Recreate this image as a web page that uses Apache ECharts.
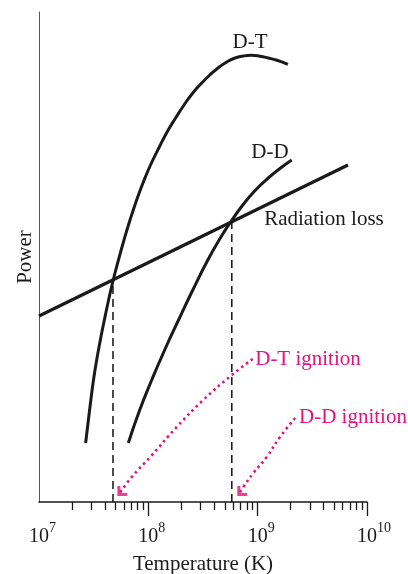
<!DOCTYPE html>
<html>
<head>
<meta charset="utf-8">
<script src="https://cdn.jsdelivr.net/npm/echarts@6/dist/echarts.min.js"></script>
<style>
  html, body { margin: 0; padding: 0; background: #fff; }
  #chart { width: 408px; height: 574px; }
</style>
</head>
<body>
<div id="chart"></div>
<script>
// temperature in K, power in arbitrary units
var tempDT = [2.67e7, 2.83e7, 2.98e7, 3.15e7, 3.37e7, 3.64e7, 3.96e7, 4.33e7, 4.75e7, 5.33e7, 5.99e7,
    6.80e7, 7.82e7, 8.93e7, 1.047e8, 1.26e8, 1.52e8, 1.80e8, 2.12e8, 2.55e8, 3.02e8, 3.65e8, 4.34e8,
    5.22e8, 6.21e8, 7.40e8, 8.70e8, 1.05e9, 1.25e9, 1.50e9, 1.89e9];
var powerDT = [59, 82, 102, 122, 142, 162, 182, 202, 221, 242, 262,
    282, 302, 319, 337, 355, 372, 385, 397, 409, 418, 427, 434,
    440, 444, 446, 446.7, 445.8, 444, 441.7, 437.7];

var tempDD = [6.56e7, 8.34e7, 1.074e8, 1.41e8, 1.89e8, 2.55e8, 3.50e8, 4.44e8, 5.74e8, 7.31e8, 9.57e8, 1.25e9, 1.62e9, 2.05e9];
var powerDD = [59, 92, 122, 152, 182, 212, 242, 262, 281, 297, 312, 324, 334, 342];

var tempRad = [1e7, 6.7e9];
var powerRad = [186, 337];

// ignition temperatures (where fusion power = radiation loss)
var ignitionTemp = [4.75e7, 5.8e8];
var ignitionPower = [222, 280];

// dotted pointer arrows, label -> ignition point
var arrowDTTemp = [9.02e8, 5.80e8, 3.18e8, 1.82e8, 1.04e8, 7.05e7, 5.32e7];
var arrowDTPower = [143, 127, 102, 75, 45, 25, 7];
var arrowDDTemp = [2.20e9, 1.60e9, 1.21e9, 9.14e8, 7.40e8, 6.65e8];
var arrowDDPower = [84, 65, 45, 29, 15, 7];

var majorTicks = [1e8, 1e9, 1e10];
var tickLabels = [1e7, 1e8, 1e9, 1e10];
var minorTicks = [];
[1e7, 1e8, 1e9].forEach(function (d) {
    for (var k = 2; k <= 9; k++) minorTicks.push(k * d);
});

var ink = '#1a1a1a';
var pink = '#e4117f';
var serif = '"Liberation Serif", "Times New Roman", serif';

function pairs(xs, ys) {
    return xs.map(function (x, i) { return [x, ys[i]]; });
}

function curve(name, xs, ys, width) {
    return {
        name: name, type: 'line', data: pairs(xs, ys),
        smooth: true, symbol: 'none', silent: true,
        lineStyle: { color: ink, width: width }
    };
}

function dashed(i) {
    return {
        type: 'line', data: [[ignitionTemp[i], 0], [ignitionTemp[i], ignitionPower[i]]],
        symbol: 'none', silent: true,
        lineStyle: { color: '#111', width: 1.5, type: [8, 5] }
    };
}

function pointer(xs, ys) {
    return {
        type: 'line', data: pairs(xs, ys), smooth: true, symbol: 'none', silent: true,
        lineStyle: { color: pink, width: 2.6, type: [2.5, 3.5] }
    };
}

// open arrow head, corner lands on the last point
var head = 'path://M0,0 L3,0 L3,7 L10,7 L10,10 L0,10 Z';
var heads = {
    type: 'scatter', silent: true, clip: false,
    data: [[arrowDTTemp[arrowDTTemp.length - 1], arrowDTPower[arrowDTPower.length - 1]],
           [arrowDDTemp[arrowDDTemp.length - 1], arrowDDPower[arrowDDPower.length - 1]]],
    symbol: head, symbolSize: 10, symbolOffset: [4, -4],
    itemStyle: { color: pink }
};

function texts(list) {
    return list.map(function (t) {
        return {
            type: 'text', x: t[0], y: t[1],
            style: { text: t[2], fill: t[3] || ink, font: '21px ' + serif, align: 'center', verticalAlign: 'middle' }
        };
    });
}

var chart = echarts.init(document.getElementById('chart'), null, { renderer: 'canvas' });
chart.setOption({
    animation: false,
    backgroundColor: '#fff',
    grid: { left: 39, right: 41, top: 12, bottom: 72, outerBoundsMode: 'none' },
    xAxis: [{
        type: 'log', logBase: 10, min: 1e7, max: 1e10,
        name: 'Temperature (K)', nameLocation: 'middle', nameGap: 52,
        nameTextStyle: { fontFamily: serif, fontSize: 21, color: ink },
        axisLine: { lineStyle: { color: ink, width: 1.5 } },
        axisTick: { show: true, length: 14, customValues: majorTicks, lineStyle: { color: ink, width: 1.3 } },
        axisLabel: {
            customValues: tickLabels, margin: 19, color: ink,
            formatter: function (v) {
                var e = Math.round(Math.log10(v));
                return (e >= 10 ? '{b2|10}' : '{b1|10}') + '{s|' + e + '}';
            },
            rich: {
                b1: { fontFamily: serif, fontSize: 20, color: ink, verticalAlign: 'bottom', padding: [6, 0, 0, 7] },
                b2: { fontFamily: serif, fontSize: 20, color: ink, verticalAlign: 'bottom', padding: [6, 0, 0, 14] },
                s: { fontFamily: serif, fontSize: 14, color: ink, verticalAlign: 'top', lineHeight: 14 }
            }
        },
        splitLine: { show: false }
    }, {
        type: 'log', logBase: 10, min: 1e7, max: 1e10, position: 'bottom',
        axisLine: { show: false },
        axisTick: { show: true, length: 8, customValues: minorTicks, lineStyle: { color: ink, width: 1.3 } },
        axisLabel: { show: false },
        splitLine: { show: false }
    }],
    yAxis: {
        type: 'value', min: 0, max: 490,
        name: 'Power', nameLocation: 'middle', nameGap: 3,
        nameTextStyle: { fontFamily: serif, fontSize: 21, color: ink },
        axisLine: { show: true, lineStyle: { color: '#555', width: 1 } },
        axisTick: { show: false },
        axisLabel: { show: false },
        splitLine: { show: false }
    },
    series: [
        curve('D-T', tempDT, powerDT, 3),
        curve('D-D', tempDD, powerDD, 3),
        curve('Radiation loss', tempRad, powerRad, 3.2),
        dashed(0),
        dashed(1),
        pointer(arrowDTTemp, arrowDTPower),
        pointer(arrowDDTemp, arrowDDPower),
        heads
    ],
    graphic: texts([
        [250, 42, 'D-T'],
        [270, 152, 'D-D'],
        [324, 219, 'Radiation loss'],
        [308, 359, 'D-T ignition', pink],
        [353, 417, 'D-D ignition', pink]
    ])
});
</script>
</body>
</html>
